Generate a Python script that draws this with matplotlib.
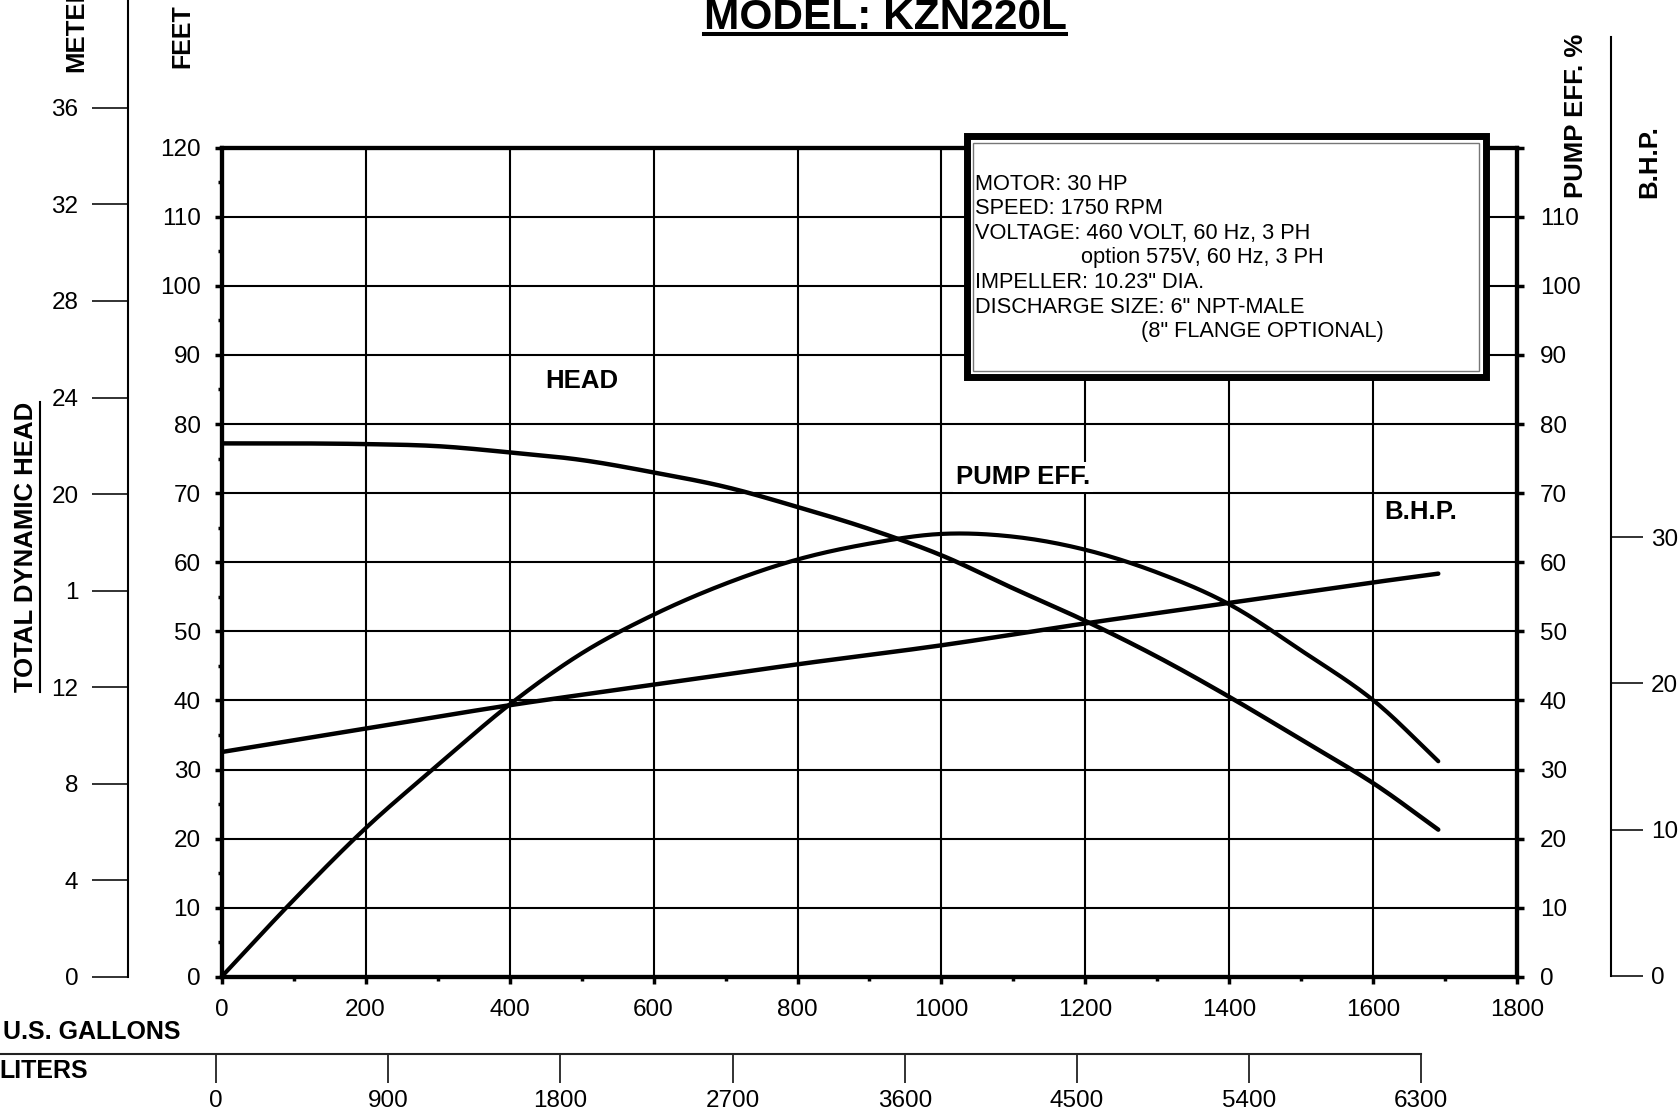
import numpy as np
import matplotlib
matplotlib.use("Agg")
import matplotlib.pyplot as plt
from matplotlib.patches import Rectangle
from matplotlib.lines import Line2D

plt.rcParams['font.family'] = ['Liberation Sans', 'DejaVu Sans']

# curve values
gpm = [0, 100, 200, 300, 400, 500, 600, 700, 800, 900, 1000, 1100, 1200, 1300, 1400, 1500, 1600, 1690]
head_ft = [77.2, 77.2, 77.1, 76.8, 75.9, 74.8, 73.0, 70.9, 68.0, 64.8, 61.0, 56.2, 51.5, 46.3, 40.5, 34.3, 28.0, 21.3]
eff_pct = [0, 11.1, 21.5, 30.6, 39.4, 46.8, 52.4, 56.9, 60.4, 62.7, 64.1, 63.7, 61.8, 58.5, 53.9, 47.2, 40.0, 31.2]
bhp_gpm = [0, 200, 400, 600, 800, 1000, 1200, 1400, 1600, 1690]
bhp = [15.3, 16.9, 18.5, 19.9, 21.3, 22.6, 24.1, 25.5, 26.9, 27.5]

# axis ticks / labels
gpm_ticks = list(range(0, 1801, 200))
feet_ticks = list(range(0, 121, 10))
eff_ticks = list(range(0, 121, 10))
eff_labels = [str(v) for v in eff_ticks[:-1]] + ['']
meter_ticks = [0, 4, 8, 12, 16, 20, 24, 28, 32, 36]
meter_labels = ['0', '4', '8', '12', '1', '20', '24', '28', '32', '36']
bhp_ticks = [0, 10, 20, 30]
liter_ticks = [0, 900, 1800, 2700, 3600, 4500, 5400, 6300]

spec_lines = [
    ("MOTOR: 30 HP", 0),
    ("SPEED: 1750 RPM", 0),
    ("VOLTAGE: 460 VOLT, 60 Hz, 3 PH", 0),
    ("option 575V, 60 Hz, 3 PH", 99),
    ("IMPELLER: 10.23\" DIA.", 0),
    ("DISCHARGE SIZE: 6\" NPT-MALE", 0),
    ("(8\" FLANGE OPTIONAL)", 155),
]


def smooth(x, y, n=24):
    # catmull-rom through the read points, just for drawing
    x = np.asarray(x, float)
    y = np.asarray(y, float)
    px = np.concatenate([[2 * x[0] - x[1]], x, [2 * x[-1] - x[-2]]])
    py = np.concatenate([[2 * y[0] - y[1]], y, [2 * y[-1] - y[-2]]])
    t = np.linspace(0, 1, n, endpoint=False)
    xs, ys = [], []
    for i in range(1, len(px) - 2):
        for p, out in ((px, xs), (py, ys)):
            p0, p1, p2, p3 = p[i - 1], p[i], p[i + 1], p[i + 2]
            out.append(0.5 * (2 * p1 + (p2 - p0) * t + (2 * p0 - 5 * p1 + 4 * p2 - p3) * t ** 2
                              + (3 * p1 - p0 - 3 * p2 + p3) * t ** 3))
    return np.append(np.concatenate(xs), x[-1]), np.append(np.concatenate(ys), y[-1])


# layout is worked out on a 1568 x 1044 grid
def fx(px):
    return px / 1568.0


def fy(py):
    return 1 - py / 1044.0


fig = plt.figure(figsize=(16.78, 11.17), dpi=100)
TICK = 17.5
OUT = 67  # points between main frame and the outer meter / bhp scales

L, R = fx(207), fx(1418)
ax = fig.add_axes([L, fy(913), R - L, fy(138) - fy(913)])
ax.set_xlim(0, 1800)
ax.set_ylim(0, 120)
ax.set_xticks(gpm_ticks)
ax.set_xticks(range(100, 1800, 200), minor=True)
ax.set_yticks(feet_ticks)
ax.set_yticks(range(5, 120, 10), minor=True)
ax.grid(True, which='major', color='black', lw=1.5)
for s in ax.spines.values():
    s.set_linewidth(3)
ax.tick_params(which='major', direction='out', length=5, width=2.5, labelsize=TICK)
ax.tick_params(which='minor', direction='out', length=3, width=2.5)
ax.tick_params(axis='x', pad=11)
ax.tick_params(axis='y', pad=10)
ax.plot(*smooth(gpm, head_ft), color='black', lw=3.2, solid_capstyle='round')

# pump efficiency % scale (right side of frame)
ax_e = ax.twinx()
ax_e.set_ylim(0, 120)
ax_e.set_yticks(eff_ticks)
ax_e.set_yticklabels(eff_labels)
ax_e.tick_params(axis='y', direction='out', length=5, width=2.5, labelsize=TICK, pad=11)
for s in ax_e.spines.values():
    s.set_linewidth(3)
ax_e.plot(*smooth(gpm, eff_pct), color='black', lw=3.0, solid_capstyle='round')

# meters scale on far left
ax_m = fig.add_axes([L, fy(913), R - L, 1 - fy(913)])
ax_m.patch.set_visible(False)
ax_m.set_ylim(0, 913 / 22.56)
for side in ['top', 'right', 'bottom']:
    ax_m.spines[side].set_visible(False)
ax_m.spines['left'].set_position(('outward', OUT))
ax_m.spines['left'].set_linewidth(1.5)
ax_m.set_xticks([])
ax_m.set_yticks(meter_ticks)
ax_m.set_yticklabels(meter_labels)
ax_m.tick_params(axis='y', length=26, width=1.3, pad=10, labelsize=TICK, color='#222222')

# B.H.P. scale on far right
ax_b = fig.add_axes([L, fy(912), R - L, fy(35) - fy(912)])
ax_b.patch.set_visible(False)
ax_b.set_xlim(0, 1800)
ax_b.set_ylim(0, (912 - 35) / 13.667)
for side in ['top', 'left', 'bottom']:
    ax_b.spines[side].set_visible(False)
ax_b.spines['right'].set_position(('outward', OUT))
ax_b.spines['right'].set_linewidth(1.5)
ax_b.set_xticks([])
ax_b.yaxis.tick_right()
ax_b.set_yticks(bhp_ticks)
ax_b.tick_params(axis='y', length=23, width=1.3, pad=6, labelsize=TICK, color='#222222')
ax_b.plot(*smooth(bhp_gpm, bhp), color='black', lw=3.2, solid_capstyle='round')

# liters scale under the gallons axis: top edge is the scale line
lpx = (1328 - 202) / 6300.0
ax_l = fig.add_axes([0, fy(1012), fx(1328), fy(985) - fy(1012)])
ax_l.patch.set_visible(False)
ax_l.set_xlim(-202 / lpx, 6300)
ax_l.set_ylim(0, 1)
for side in ['bottom', 'left', 'right']:
    ax_l.spines[side].set_visible(False)
ax_l.spines['top'].set_linewidth(1.5)
ax_l.spines['top'].set_color('#222222')
ax_l.set_yticks([])
ax_l.set_xticks(liter_ticks)
ax_l.tick_params(axis='x', direction='in', length=21, width=1.3, pad=5, labelsize=TICK,
                 color='#222222')

# curve labels
ax.text(501, 86.2, 'HEAD', fontsize=18.5, fontweight='bold', ha='center', va='center')
ax.text(1113, 72.3, 'PUMP EFF.', fontsize=18.5, fontweight='bold', ha='center', va='center',
        bbox=dict(facecolor='white', edgecolor='none', pad=2))
ax.text(1666, 67.2, 'B.H.P.', fontsize=18.5, fontweight='bold', ha='center', va='center',
        bbox=dict(facecolor='white', edgecolor='none', pad=2))

# axis captions
fig.text(fx(71.5), fy(67), 'METERS', rotation=90, ha='center', va='bottom', fontsize=18.5, fontweight='bold')
fig.text(fx(170), fy(64), 'FEET', rotation=90, ha='center', va='bottom', fontsize=18, fontweight='bold')
tdh = fig.text(fx(24.5), fy(511), 'TOTAL DYNAMIC HEAD', rotation=90, ha='center', va='center',
               fontsize=18.5, fontweight='bold')
fig.text(fx(1473), fy(185), 'PUMP EFF. %', rotation=90, ha='center', va='bottom', fontsize=18.5, fontweight='bold')
fig.text(fx(1541), fy(185), 'B.H.P.', rotation=90, ha='center', va='bottom', fontsize=18.5, fontweight='bold')
fig.text(fx(169), fy(965), 'U.S. GALLONS', ha='right', va='center', fontsize=18, fontweight='bold')
fig.text(fx(82), fy(1001), 'LITERS', ha='right', va='center', fontsize=18, fontweight='bold')
title = fig.text(fx(827), fy(27), 'MODEL: KZN220L', ha='center', va='baseline', fontsize=30.5, fontweight='bold')

# spec box with double border
fig.add_artist(Rectangle((fx(903.3), fy(352.7)), fx(1388.7) - fx(903.3), fy(127.3) - fy(352.7),
                         transform=fig.transFigure, facecolor='white', edgecolor='black', lw=5, zorder=5))
fig.add_artist(Rectangle((fx(909.5), fy(346.5)), fx(1382.5) - fx(909.5), fy(133.5) - fy(346.5),
                         transform=fig.transFigure, facecolor='none', edgecolor='#777777', lw=1, zorder=6))
for i, (line, dx) in enumerate(spec_lines):
    fig.text(fx(911 + dx), fy(172 + 23 * i), line, ha='left', va='center', fontsize=15.7, zorder=7)

# underlines
fig.canvas.draw()
inv = fig.transFigure.inverted()
bb = title.get_window_extent()
(x0, _), (x1, _) = inv.transform([(bb.x0, 0), (bb.x1, 0)])
fig.add_artist(Line2D([x0, x1], [fy(32.2), fy(32.2)], transform=fig.transFigure, color='black', lw=2.9))
bb = tdh.get_window_extent()
(ux, y0), (_, y1) = inv.transform([(bb.x1 + 2, bb.y0), (bb.x1, bb.y1)])
fig.add_artist(Line2D([ux, ux], [y0, y1], transform=fig.transFigure, color='black', lw=1.5))

fig.savefig('out.png', dpi=100)
